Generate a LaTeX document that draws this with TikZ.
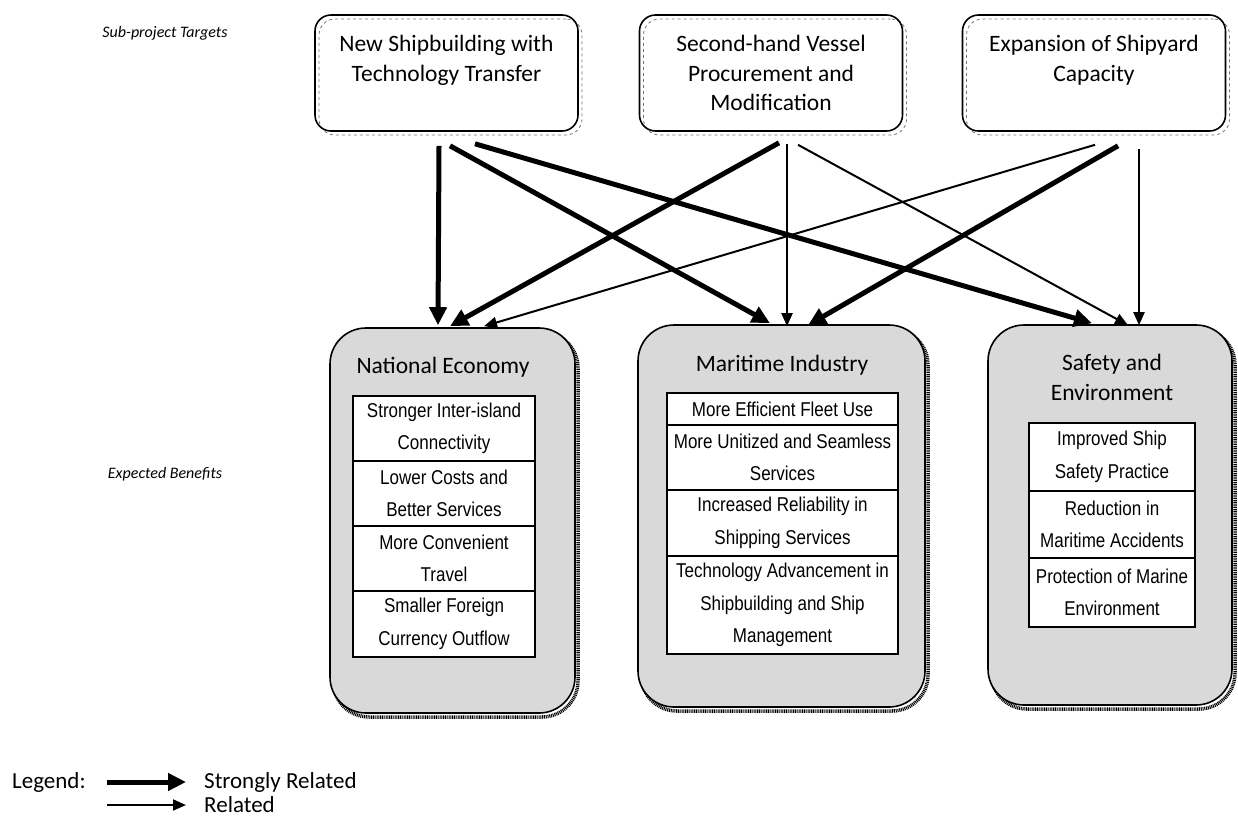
\documentclass[tikz,border=0pt]{standalone}
\usepackage{fontspec}
\setmainfont{Carlito}
\newfontfamily\narrowfont[FakeStretch=0.85]{Liberation Sans}
\usetikzlibrary{arrows.meta,shadows}
\begin{document}
\begin{tikzpicture}[x=1pt,y=-1pt,
  target/.style={draw, line width=1.6pt, rounded corners=16pt, minimum width=263pt,
    minimum height=116pt, inner sep=0pt, align=center,
    font=\fontsize{23.5}{29.5}\selectfont,
    copy shadow={shadow xshift=4pt, shadow yshift=-4pt, draw=black!55, dashed,
      line width=0.8pt, fill=none}},
  group/.style={draw, line width=1.6pt, rounded corners=36pt, fill=black!15, inner sep=0pt,
    copy shadow={shadow xshift=3pt, shadow yshift=-4pt, draw=black, fill=none,
      line width=3.5pt, dash pattern=on 1pt off 0.8pt}},
  title/.style={inner sep=0pt, align=center, font=\fontsize{23.5}{30}\selectfont},
  cell/.style={draw, line width=1.5pt, fill=white, inner sep=0pt, align=center,
    font=\narrowfont\fontsize{20}{32.5}\selectfont},
  sidelabel/.style={inner sep=0pt, font=\itshape\fontsize{16}{19}\selectfont},
  legtext/.style={inner sep=0pt, anchor=west, font=\fontsize{23}{28}\selectfont},
  strong/.style={line width=5pt, -{Triangle[length=18pt,width=17pt]}},
  rel/.style={line width=2pt, -{Triangle[length=13pt,width=11pt]}}
]
\useasboundingbox (0,0) rectangle (1238,817);

% side labels
\node[sidelabel] (spt) at (165,33) {Sub-project Targets};
\node[sidelabel] (exb) at (165,474) {Expected Benefits};

% targets
\node[target] (t1) at (446.5,73) {New Shipbuilding with\\Technology Transfer\\\mbox{}};
\node[target] (t2) at (771,73) {Second-hand Vessel\\Procurement and\\Modification};
\node[target] (t3) at (1094,73) {Expansion of Shipyard\\Capacity\\\mbox{}};

% groups
\node[group, minimum width=245pt, minimum height=385pt] (g1) at (452.5,520.5) {};
\node[group, minimum width=287pt, minimum height=382pt] (g2) at (781.5,516) {};
\node[group, minimum width=244pt, minimum height=380pt] (g3) at (1110,515) {};

\node[title] (g1t) at (443,367) {National Economy};
\node[title] (g2t) at (782,365) {Maritime Industry};
\node[title] (g3t) at (1112,377) {Safety and\\Environment};

% National Economy cells
\node[cell, minimum width=182pt, minimum height=65pt] (n1) at (444,428.5) {Stronger Inter-island\\Connectivity};
\node[cell, minimum width=182pt, minimum height=65pt] (n2) at (444,493.5) {Lower Costs and\\Better Services};
\node[cell, minimum width=182pt, minimum height=65pt] (n3) at (444,558.5) {More Convenient\\Travel};
\node[cell, minimum width=182pt, minimum height=66pt] (n4) at (444,624) {Smaller Foreign\\Currency Outflow};

% Maritime Industry cells
\node[cell, minimum width=231pt, minimum height=32pt] (m1) at (782.5,409) {More Efficient Fleet Use};
\node[cell, minimum width=231pt, minimum height=65pt] (m2) at (782.5,457.5) {More Unitized and Seamless\\Services};
\node[cell, minimum width=231pt, minimum height=66pt] (m3) at (782.5,523) {Increased Reliability in\\Shipping Services};
\node[cell, minimum width=231pt, minimum height=98pt] (m4) at (782.5,605) {Technology Advancement in\\Shipbuilding and Ship\\Management};

% Safety and Environment cells
\node[cell, minimum width=166pt, minimum height=68pt] (s1) at (1112,457) {Improved Ship\\Safety Practice};
\node[cell, minimum width=166pt, minimum height=67pt] (s2) at (1112,524.5) {Reduction in\\Maritime Accidents};
\node[cell, minimum width=166pt, minimum height=69pt] (s3) at (1112,592.5) {Protection of Marine\\Environment};

% connectors
\draw[strong] ([xshift=-7.5pt,yshift=-14pt]t1.south) -- ([xshift=-14.5pt,yshift=2pt]g1.north);
\draw[strong] ([xshift=3.5pt,yshift=-14pt]t1.south) -- ([xshift=-11.5pt,yshift=1pt]g2.north);
\draw[strong] ([xshift=28.5pt,yshift=-12pt]t1.south) -- ([xshift=-18pt,yshift=1pt]g3.north);
\draw[strong] ([xshift=8pt,yshift=-11pt]t2.south) -- ([xshift=-2.5pt,yshift=1pt]g1.north);
\draw[rel] ([xshift=16pt,yshift=-12pt]t2.south) -- ([xshift=5.5pt,yshift=-2pt]g2.north);
\draw[rel] ([xshift=27pt,yshift=-13pt]t2.south) -- ([xshift=18pt,yshift=-1pt]g3.north);
\draw[rel] ([xshift=1pt,yshift=-13pt]t3.south) -- ([xshift=31.5pt,yshift=1pt]g1.north);
\draw[strong] ([xshift=24pt,yshift=-14pt]t3.south) -- ([xshift=26.5pt,yshift=-1pt]g2.north);
\draw[rel] ([xshift=45pt,yshift=-17pt]t3.south) -- ([xshift=29pt,yshift=-1pt]g3.north);

% legend
\node[legtext] (leg) at (12,782) {Legend:};
\coordinate (l1s) at (107,782);
\coordinate (l1e) at (186,782);
\coordinate (l2s) at (107,805);
\coordinate (l2e) at (186,805);
\draw[strong] (l1s) -- (l1e);
\draw[rel] (l2s) -- (l2e);
\node[legtext] (lst) at (204,782) {Strongly Related};
\node[legtext] (lrt) at (204,805) {Related};
\end{tikzpicture}
\end{document}
